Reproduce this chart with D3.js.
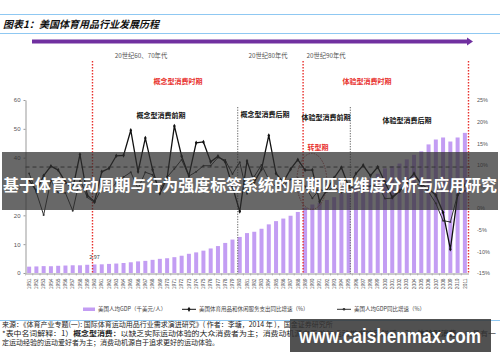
<!DOCTYPE html>
<html>
<head>
<meta charset="utf-8">
<script src="https://cdn.jsdelivr.net/npm/d3@7"></script>
<style>
  body { margin: 0; background: #fff; }
  svg { display: block; font-family: "Noto Sans CJK SC", "Noto Sans", sans-serif; }
</style>
</head>
<body>
<div id="svg-area"></div>
<script>
// data
var years = [1951, 1952, 1953, 1954, 1955, 1956, 1957, 1958, 1959, 1960,
             1961, 1962, 1963, 1964, 1965, 1966, 1967, 1968, 1969, 1970,
             1971, 1972, 1973, 1974, 1975, 1976, 1977, 1978, 1979, 1980,
             1981, 1982, 1983, 1984, 1985, 1986, 1987, 1988, 1989, 1990,
             1991, 1992, 1993, 1994, 1995, 1996, 1997, 1998, 1999, 2000,
             2001, 2002, 2003, 2004, 2005, 2006, 2007, 2008, 2009, 2010, 2011];

// 美国人均GDP (千美元/人)
var gdpPerCapita = [2.20, 2.28, 2.39, 2.35, 2.50, 2.59, 2.68, 2.67, 2.85, 2.97,
                    3.01, 3.15, 3.28, 3.47, 3.72, 4.03, 4.21, 4.56, 4.91, 5.12,
                    5.49, 5.99, 6.66, 7.15, 7.75, 8.51, 9.34, 10.43, 11.59, 12.51,
                    13.84, 14.30, 15.34, 16.87, 17.99, 18.88, 19.86, 21.17, 22.63, 23.76,
                    24.30, 25.34, 26.31, 27.62, 28.61, 29.93, 31.42, 32.76, 34.44, 36.31,
                    37.10, 37.95, 39.41, 41.0, 42.2, 44.6, 46.3, 47.0, 45.6, 47.0, 48.6];

// 美国体育用品和休闲服务支出同比增速 (%)
var spendGrowth = [6.5, 4.0, 7.5, 9.7, 8.8, 6.0, 4.5, 12.4, 3.0, 1.5,
                   8.4, 9.2, 12.1, 12.2, 18.0, 8.4, 16.2, 8.9, 3.4, 7.0,
                   19.0, 12.0, 7.5, 15.1, 15.3, 10.7, 12.0, 10.7, 5.0, -0.8,
                   10.9, 6.0, 9.0, 16.8, 8.0, 6.0, 9.0, 11.2, 8.8, 8.8,
                   1.5, 4.2, 7.0, 9.4, 5.0, 8.0, 9.9, 7.5, 9.5, 6.0,
                   2.5, 4.0, 6.0, 8.0, 5.5, 4.5, 3.0, -1.0, -9.5, 3.0, 5.3];

// 美国人均GDP同比增速 (%)
var gdpGrowth = [8.0, 3.6, -1.6, 6.4, 3.6, 3.5, -0.6, 6.7, 2.5, 1.3,
                 4.7, 4.1, 5.8, 7.2, 8.3, 4.5, 8.3, 7.7, 4.3, 7.2,
                 9.1, 11.2, 7.4, 8.4, 9.8, 9.8, 11.7, 11.1, 7.9, 10.6,
                 3.3, 7.3, 10.0, 6.6, 4.9, 5.2, 6.6, 6.9, 5.0, 2.3,
                 4.3, 3.8, 5.0, 3.6, 4.6, 5.0, 4.3, 5.1, 5.4, 2.2,
                 2.3, 3.8, 5.7, 5.7, 5.2, 3.8, 1.1, -2.9, -3.2, 3.1, 4.0];

var leftTicks = [0, 10, 20, 30, 40, 50, 60];
var rightTicks = [-15, -10, -5, 0, 5, 10, 15, 20, 25];
var averageGrowth = 9.5;

// 时期分界 (年份)
var redLines = [1960, 1989, 2012];
var grayLines = [1980, 1995.5];

var svgWidth = 500;
var svgHeight = 362;

var svg = d3.select("#svg-area")
            .append("svg")
            .attr("width", svgWidth)
            .attr("height", svgHeight);

// header
svg.append("line").attr("x1", 0).attr("x2", 500).attr("y1", 14.5).attr("y2", 14.5)
   .attr("stroke", "#8fc8f2").attr("stroke-width", 1);
svg.append("line").attr("x1", 0).attr("x2", 500).attr("y1", 33.5).attr("y2", 33.5)
   .attr("stroke", "#8fc8f2").attr("stroke-width", 1);
svg.append("text").attr("x", 3).attr("y", 27.5)
   .attr("font-size", 10).attr("font-weight", "bold").attr("font-style", "italic")
   .attr("fill", "#111")
   .text("图表1：美国体育用品行业发展历程");

// purple time arrow
svg.append("rect").attr("x", 32).attr("y", 39.5).attr("width", 436).attr("height", 4)
   .attr("fill", "#7030a0");
svg.append("path").attr("d", "M467,37.5 L473,41.5 L467,45.5 Z").attr("fill", "#7030a0");

// scales
var x = d3.scaleBand()
          .domain(years)
          .range([25.5, 468.5])
          .paddingInner(0.45)
          .paddingOuter(0.225);

var yLeft = d3.scaleLinear().domain([0, 60]).range([273, 100]);
var yRight = d3.scaleLinear().domain([-15, 25]).range([273, 100]);

function yearX(yr) {
  var step = x.step();
  return x(years[0]) + (yr - years[0]) * step;
}

// bars
svg.selectAll(".bar")
   .data(gdpPerCapita)
   .enter()
   .append("rect")
   .attr("x", (d, i) => x(years[i]))
   .attr("y", d => yLeft(d))
   .attr("width", x.bandwidth())
   .attr("height", d => yLeft(0) - yLeft(d))
   .attr("fill", "#c39df3");

svg.append("text").attr("x", x(1960) + x.bandwidth() / 2).attr("y", yLeft(2.97) - 5)
   .attr("text-anchor", "middle").attr("font-size", 5.5).attr("fill", "#444")
   .text("2.97");

// left axis
var leftAxis = svg.append("g")
   .attr("transform", "translate(25.5,0)")
   .call(d3.axisLeft(yLeft).tickValues(leftTicks).tickSize(2).tickSizeOuter(0));
leftAxis.select(".domain").attr("stroke", "#999");
leftAxis.selectAll(".tick line").attr("stroke", "#999");
leftAxis.selectAll("text").attr("font-size", 6).attr("fill", "#555")
        .attr("font-family", "Liberation Sans, Arial, sans-serif").attr("x", -5);

// right axis labels
var rightAxis = svg.append("g")
   .attr("transform", "translate(474,0)")
   .call(d3.axisRight(yRight).tickValues(rightTicks).tickSize(0).tickFormat(d => d + "%"));
rightAxis.select(".domain").remove();
rightAxis.selectAll("text").attr("font-size", 5.5).attr("fill", "#555")
         .attr("font-family", "Liberation Sans, Arial, sans-serif");

// x axis
var xAxis = svg.append("g")
   .attr("transform", "translate(0,273.5)")
   .call(d3.axisBottom(x).tickSize(0).tickSizeOuter(0));
xAxis.select(".domain").attr("stroke", "#999");
xAxis.selectAll("text")
     .attr("transform", "rotate(-90)")
     .attr("text-anchor", "end")
     .attr("x", -5)
     .attr("y", 0)
     .attr("dy", "0.35em")
     .attr("font-size", 4.8)
     .attr("fill", "#555")
     .attr("font-family", "Liberation Sans, Arial, sans-serif");

// small boundary ticks between categories
svg.selectAll(".xtick")
   .data(years)
   .enter()
   .append("line")
   .attr("x1", d => x(d) - (x.step() - x.bandwidth()) / 2)
   .attr("x2", d => x(d) - (x.step() - x.bandwidth()) / 2)
   .attr("y1", 273.5).attr("y2", 275.5)
   .attr("stroke", "#999").attr("stroke-width", 0.6);

// average dashed line
svg.append("line")
   .attr("x1", 25.5).attr("x2", 470)
   .attr("y1", yRight(averageGrowth)).attr("y2", yRight(averageGrowth))
   .attr("stroke", "#444").attr("stroke-width", 1).attr("stroke-dasharray", "4,3");

// vertical period lines
svg.selectAll(".red-line")
   .data(redLines)
   .enter()
   .append("line")
   .attr("x1", d => Math.min(yearX(d), 468.5))
   .attr("x2", d => Math.min(yearX(d), 468.5))
   .attr("y1", 61).attr("y2", 274)
   .attr("stroke", "#e8312d").attr("stroke-width", 1.4).attr("stroke-dasharray", "1.6,1.4");

svg.selectAll(".gray-line")
   .data(grayLines)
   .enter()
   .append("line")
   .attr("x1", d => yearX(d))
   .attr("x2", d => yearX(d))
   .attr("y1", 107).attr("y2", 274)
   .attr("stroke", "#666").attr("stroke-width", 1).attr("stroke-dasharray", "1.3,1.3");

// transition ellipse
svg.append("ellipse")
   .attr("cx", yearX(1990.2)).attr("cy", yRight(6.2))
   .attr("rx", 15).attr("ry", 28)
   .attr("fill", "none").attr("stroke", "#b03030").attr("stroke-width", 0.8)
   .attr("stroke-dasharray", "1.5,1.2");

// lines
var cx = (d, i) => x(years[i]) + x.bandwidth() / 2;

var lineGdp = d3.line().x(cx).y(d => yRight(d));
svg.append("path").datum(gdpGrowth)
   .attr("d", lineGdp).attr("fill", "none")
   .attr("stroke", "#333").attr("stroke-width", 1);
svg.selectAll(".dot-gdp")
   .data(gdpGrowth)
   .enter()
   .append("circle")
   .attr("cx", cx).attr("cy", d => yRight(d)).attr("r", 1)
   .attr("fill", "#333");

var lineSpend = d3.line().x(cx).y(d => yRight(d));
svg.append("path").datum(spendGrowth)
   .attr("d", lineSpend).attr("fill", "none")
   .attr("stroke", "#111").attr("stroke-width", 1.3);
svg.selectAll(".dot-spend")
   .data(spendGrowth)
   .enter()
   .append("path")
   .attr("d", d3.symbol().type(d3.symbolDiamond).size(6))
   .attr("transform", (d, i) => `translate(${cx(d, i)},${yRight(d)})`)
   .attr("fill", "#111");

// period labels
var labelFont = "Noto Sans CJK SC";
function label(tx, ty, str, color, size, weight) {
  svg.append("text").attr("x", tx).attr("y", ty)
     .attr("text-anchor", "middle").attr("font-size", size)
     .attr("font-weight", weight || "normal").attr("fill", color)
     .attr("font-family", labelFont)
     .text(str);
}
label(141, 57.5, "20世纪60、70年代", "#555", 6.3);
label(268, 57.5, "20世纪80年代", "#555", 6.3);
label(326, 57.5, "20世纪90年代", "#555", 6.3);

label(178, 83.5, "概念型消费时期", "#e8312d", 7, "bold");
label(367, 83.5, "体验型消费时期", "#e8312d", 7, "bold");

label(161, 117.5, "概念型消费前期", "#111", 7, "bold");
label(265, 116.5, "概念型消费后期", "#111", 7, "bold");
label(326, 119.5, "体验型消费前期", "#111", 7, "bold");
label(407, 122.5, "体验型消费后期", "#111", 7, "bold");
label(318, 149.5, "转型期", "#e8312d", 7, "bold");

// legend
var legend = svg.append("g").attr("font-size", 5.5).attr("fill", "#444");
legend.append("rect").attr("x", 83).attr("y", 307.5).attr("width", 12).attr("height", 3.5)
      .attr("fill", "#c39df3");
legend.append("text").attr("x", 98).attr("y", 311).text("美国人均GDP（千美元/人）");
legend.append("line").attr("x1", 182).attr("x2", 196).attr("y1", 309.3).attr("y2", 309.3)
      .attr("stroke", "#111").attr("stroke-width", 1);
legend.append("path").attr("d", d3.symbol().type(d3.symbolDiamond).size(8))
      .attr("transform", "translate(189,309.3)").attr("fill", "#111");
legend.append("text").attr("x", 199).attr("y", 311).text("美国体育用品和休闲服务支出同比增速（%）");
legend.append("line").attr("x1", 337).attr("x2", 351).attr("y1", 309.3).attr("y2", 309.3)
      .attr("stroke", "#333").attr("stroke-width", 1);
legend.append("circle").attr("cx", 344).attr("cy", 309.3).attr("r", 1.3).attr("fill", "#333");
legend.append("text").attr("x", 354).attr("y", 311).text("美国人均GDP同比增速（%）");

// source notes
svg.append("line").attr("x1", 0).attr("x2", 500).attr("y1", 320.5).attr("y2", 320.5)
   .attr("stroke", "#8fc8f2").attr("stroke-width", 1);
var notes = svg.append("g").attr("font-size", 7).attr("fill", "#222");
notes.append("text").attr("x", 2).attr("y", 327)
     .text("来源：《体育产业专题(一): 国际体育运动用品行业需求演进研究》( 作者：李塘，2014 年 )，国金证券研究所");
var note2 = notes.append("text").attr("x", 2).attr("y", 336)
     .attr("textLength", 494).attr("lengthAdjust", "spacingAndGlyphs");
note2.append("tspan").text("*表中名词解释：1）");
note2.append("tspan").attr("font-weight", "bold").text("概念型消费：");
note2.append("tspan").text("以缺乏实际运动体验的大众消费者为主；消费动机源自于参与运动带来的新鲜感；2）");
note2.append("tspan").attr("font-weight", "bold").text("体验型消费：");
note2.append("tspan").text("以具有一");
notes.append("text").attr("x", 2).attr("y", 345)
     .text("定运动经验的运动爱好者为主；消费动机源自于追求更好的运动体验。");

// overlay banner
svg.append("rect").attr("x", 2).attr("y", 152).attr("width", 496).attr("height", 58)
   .attr("fill", "#2e2e2e").attr("opacity", 0.72);
svg.append("text").attr("x", 250).attr("y", 190.5)
   .attr("text-anchor", "middle").attr("font-size", 16).attr("font-weight", "bold")
   .attr("fill", "#fff").attr("textLength", 494).attr("lengthAdjust", "spacingAndGlyphs")
   .text("基于体育运动周期与行为强度标签系统的周期匹配维度分析与应用研究");

// watermark
svg.append("rect").attr("x", 290).attr("y", 319).attr("width", 201).attr("height", 33)
   .attr("fill", "#333").attr("opacity", 0.85);
svg.append("text").attr("x", 390).attr("y", 342.5)
   .attr("text-anchor", "middle").attr("font-size", 21).attr("font-weight", "bold")
   .attr("fill", "#fff").attr("font-family", "Liberation Sans, Arial, sans-serif")
   .attr("textLength", 182).attr("lengthAdjust", "spacingAndGlyphs")
   .text("www.caishenmax.com");
</script>
</body>
</html>
